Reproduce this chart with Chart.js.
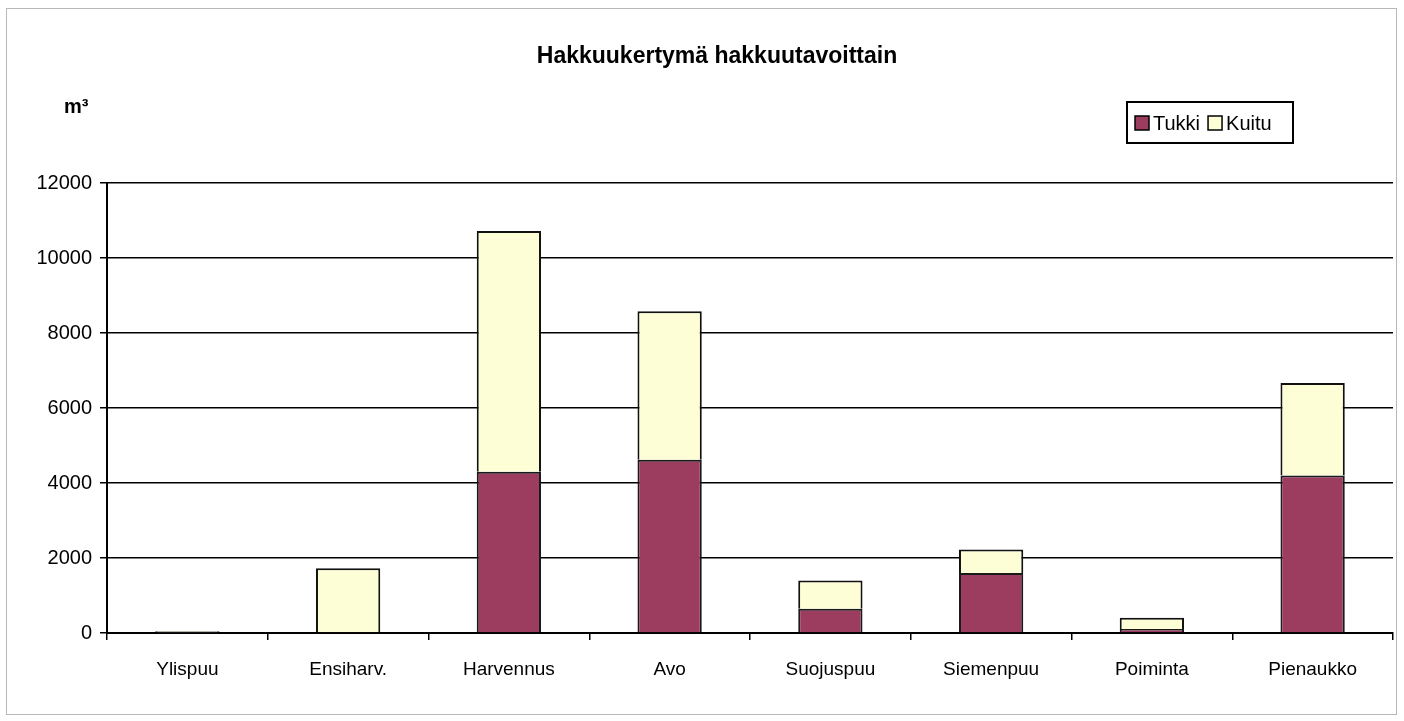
<!DOCTYPE html>
<html>
<head>
<meta charset="utf-8">
<script src="https://cdn.jsdelivr.net/npm/chart.js@4/dist/chart.umd.min.js"></script>
<style>
    html, body { margin: 0; padding: 0; background: #fff; }
    #wrap { position: relative; width: 1404px; height: 721px; }
</style>
</head>
<body>
<div id="wrap"><canvas id="chart" width="1404" height="721"></canvas></div>
<script>
    // Hakkuukertymä hakkuutavoittain, m3
    var categories = ['Ylispuu', 'Ensiharv.', 'Harvennus', 'Avo', 'Suojuspuu', 'Siemenpuu', 'Poiminta', 'Pienaukko'];
    var tukki = [20, 30, 4300, 4620, 650, 1600, 110, 4200];
    var kuitu = [30, 1700, 6420, 3960, 750, 630, 300, 2470];
    var yTicks = [0, 2000, 4000, 6000, 8000, 10000, 12000];

    var TUKKI_COLOR = '#9c3d60';
    var KUITU_COLOR = '#fdfdd6';
    var FONT = '"Liberation Sans", Arial, sans-serif';

    // title, unit label, boxed legend and outer frame
    var decorations = {
        id: 'decorations',
        beforeDraw: function (chart) {
            var ctx = chart.ctx;
            ctx.save();
            ctx.fillStyle = '#fff';
            ctx.fillRect(0, 0, chart.width, chart.height);
            ctx.strokeStyle = '#b8b8b8';
            ctx.lineWidth = 1;
            ctx.strokeRect(6.5, 8.5, 1390, 706);
            ctx.restore();
        },
        afterDraw: function (chart) {
            var ctx = chart.ctx;
            ctx.save();
            ctx.fillStyle = '#000';
            ctx.textBaseline = 'middle';
            ctx.font = 'bold 23px ' + FONT;
            ctx.textAlign = 'center';
            ctx.fillText('Hakkuukertymä hakkuutavoittain', 717, 57);
            ctx.textAlign = 'left';
            ctx.textBaseline = 'alphabetic';
            ctx.font = 'bold 20px ' + FONT;
            ctx.fillText('m³', 64, 113);

            // legend box
            ctx.textBaseline = 'middle';
            var lx = 1127, ly = 102, lw = 166, lh = 41;
            ctx.strokeStyle = '#000';
            ctx.lineWidth = 2;
            ctx.strokeRect(lx, ly, lw, lh);
            ctx.font = '20px ' + FONT;
            var x = lx + 8;
            chart.data.datasets.forEach(function (ds) {
                ctx.fillStyle = ds.backgroundColor;
                ctx.fillRect(x, ly + 14, 14, 14);
                ctx.lineWidth = 1.5;
                ctx.strokeRect(x, ly + 14, 14, 14);
                ctx.fillStyle = '#000';
                ctx.fillText(ds.label, x + 18, ly + 22);
                x += 18 + ctx.measureText(ds.label).width + 8;
            });
            ctx.restore();
        }
    };

    new Chart(document.getElementById('chart').getContext('2d'), {
        type: 'bar',
        data: {
            labels: categories,
            datasets: [
                {
                    label: 'Tukki',
                    data: tukki,
                    backgroundColor: TUKKI_COLOR,
                    borderColor: '#1a1a1a',
                    borderWidth: 2,
                    categoryPercentage: 1,
                    barPercentage: 0.4
                },
                {
                    label: 'Kuitu',
                    data: kuitu,
                    backgroundColor: KUITU_COLOR,
                    borderColor: '#111',
                    borderWidth: 2,
                    categoryPercentage: 1,
                    barPercentage: 0.4
                }
            ]
        },
        options: {
            responsive: false,
            animation: false,
            layout: { padding: { top: 183, right: 11, left: 0, bottom: 0 } },
            plugins: {
                legend: { display: false },
                title: { display: false },
                tooltip: { enabled: false }
            },
            scales: {
                x: {
                    stacked: true,
                    offset: true,
                    grid: {
                        offset: true,
                        drawOnChartArea: false,
                        drawTicks: true,
                        tickLength: 7,
                        color: '#000',
                        lineWidth: 1.5
                    },
                    border: { color: '#000', width: 2 },
                    ticks: {
                        color: '#000',
                        padding: 18,
                        font: { family: FONT, size: 19 }
                    },
                    afterFit: function (scale) { scale.height = 721 - 183 - 450; }
                },
                y: {
                    stacked: true,
                    min: 0,
                    max: 12000,
                    afterBuildTicks: function (scale) {
                        scale.ticks = yTicks.map(function (v) { return { value: v }; });
                    },
                    grid: {
                        color: '#000',
                        lineWidth: 1.5,
                        tickLength: 7
                    },
                    border: { color: '#000', width: 2 },
                    ticks: {
                        color: '#000',
                        padding: 8,
                        font: { family: FONT, size: 20 },
                        callback: function (v) { return String(v); }
                    },
                    afterFit: function (scale) { scale.width = 107; }
                }
            }
        },
        plugins: [decorations]
    });
</script>
</body>
</html>
